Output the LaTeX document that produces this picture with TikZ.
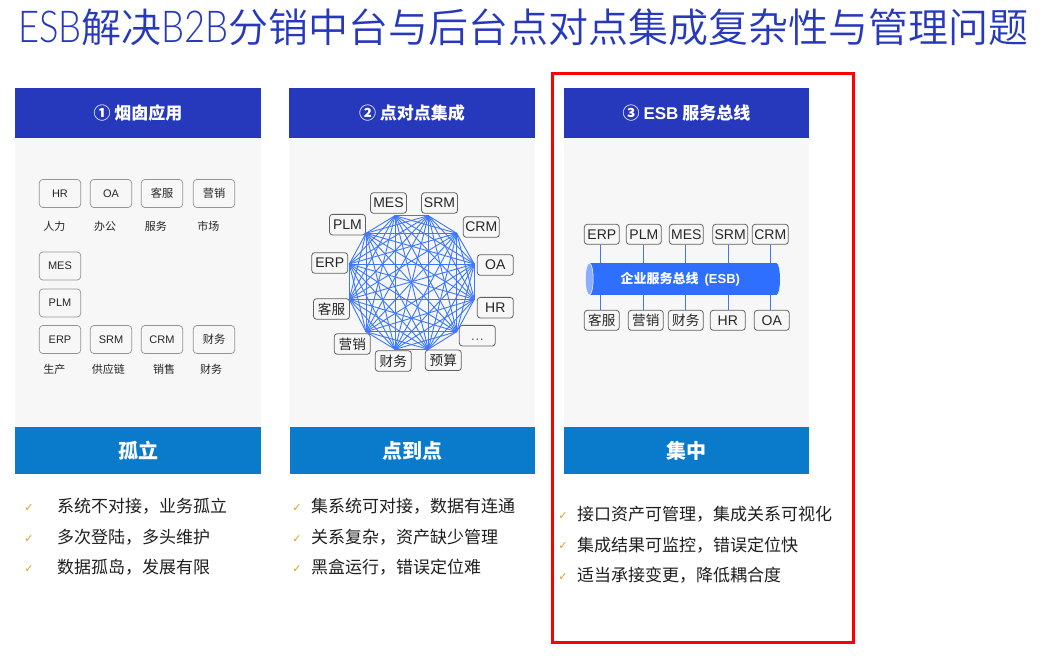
\documentclass[tikz,border=0pt]{standalone}
\usepackage{fontspec}
\usepackage{graphicx}
\setmainfont{Liberation Sans}
\newfontfamily\cjk{Noto Sans CJK SC}
\newfontfamily\cjklight{Noto Sans CJK SC DemiLight}
\newfontfamily\latlight{Lato Light}
\newfontfamily\sym{DejaVu Sans}
\definecolor{hdr}{HTML}{2639BD}
\definecolor{ftr}{HTML}{0A7BCA}
\definecolor{pane}{HTML}{F7F7F7}
\definecolor{netc}{HTML}{3B78FF}
\definecolor{barc}{HTML}{2F6FFF}
\definecolor{barl}{HTML}{8CAEFF}
\definecolor{chk}{HTML}{D9A21B}
\tikzset{
  hdrbox/.style={fill=hdr,draw=none,inner sep=0,text=white,minimum height=50,font=\cjk\bfseries\fontsize{17}{17}\selectfont},
  ftrbox/.style={fill=ftr,draw=none,inner sep=0,text=white,minimum height=47,font=\cjk\bfseries\fontsize{20}{20}\selectfont},
  panebox/.style={fill=pane,draw=none,inner sep=0,minimum height=289},
  smallbox/.style={draw=black!42,line width=0.7,rounded corners=3.5,fill=pane,inner sep=0,minimum width=41.4,minimum height=28,text=black!85,font=\fontsize{11}{11}\selectfont},
  netbox/.style={draw=black!62,line width=0.8,rounded corners=3,fill=pane,inner sep=0,minimum width=36,minimum height=20.6,text=black!85,font=\fontsize{14}{14}\selectfont},
  busbox/.style={netbox,minimum width=35,minimum height=20},
  cjklab/.style={inner sep=0,text=black!85,font=\cjk\fontsize{11}{11}\selectfont},
  bullettext/.style={anchor=west,inner sep=0,text=black!88,font=\cjk\fontsize{17}{17}\selectfont},
  checkmark/.style={inner sep=0,text=chk,font=\sym\fontsize{11}{11}\selectfont},
  netline/.style={draw=netc,line width=0.9},
  busline/.style={draw=netc,line width=1},
}
\newcommand{\cn}[1]{{\cjk\fontsize{13.6}{13.6}\selectfont #1}}
\newcommand{\cs}[1]{{\cjk\fontsize{11.2}{11.2}\selectfont #1}}
\newcommand{\ttlat}[1]{\scalebox{0.91}[1.1]{\latlight #1}}
\begin{document}
\begin{tikzpicture}[x=1pt,y=-1pt]
\useasboundingbox[fill=white] (0,0) rectangle (1045,660);
% title
\node[inner sep=0,text=hdr,font=\cjklight\fontsize{40}{40}\selectfont] (title) at (523.5,27) {\ttlat{ESB}解决\ttlat{B2B}分销中台与后台点对点集成复杂性与管理问题};
% panels
\node[panebox,minimum width=246] (p1) at (138,282.5) {};
\node[panebox,minimum width=246] (p2) at (412,282.5) {};
\node[panebox,minimum width=245] (p3) at (686.5,282.5) {};
\node[hdrbox,minimum width=246] (h1) at (138,113) {① 烟囱应用};
\node[hdrbox,minimum width=246] (h2) at (412,113) {② 点对点集成};
\node[hdrbox,minimum width=245] (h3) at (686.5,113) {③ {\rmfamily\bfseries ESB} 服务总线};
\node[ftrbox,minimum width=246] (f1) at (138,450.5) {孤立};
\node[ftrbox,minimum width=245] (f2) at (412.5,450.5) {点到点};
\node[ftrbox,minimum width=245] (f3) at (686.5,450.5) {集中};
% column 1
\node[smallbox] (a1) at (60,193.5) {HR};
\node[smallbox] (a2) at (111,193.5) {OA};
\node[smallbox] (a3) at (162,193.5) {\cs{客服}};
\node[smallbox] (a4) at (214,193.5) {\cs{营销}};
\node[cjklab] (la1) at (54.3,226.7) {人力};
\node[cjklab] (la2) at (105,226.7) {办公};
\node[cjklab] (la3) at (155.8,226.7) {服务};
\node[cjklab] (la4) at (208.3,226.7) {市场};
\node[smallbox] (a5) at (60,266) {MES};
\node[smallbox] (a6) at (60,303) {PLM};
\node[smallbox] (a7) at (60,339.5) {ERP};
\node[smallbox] (a8) at (111,339.5) {SRM};
\node[smallbox] (a9) at (162,339.5) {CRM};
\node[smallbox] (a10) at (214,339.5) {\cs{财务}};
\node[cjklab] (lb1) at (54.3,369.3) {生产};
\node[cjklab] (lb2) at (108.3,369.3) {供应链};
\node[cjklab] (lb3) at (164.2,369.3) {销售};
\node[cjklab] (lb4) at (211,369.3) {财务};
% column 2: full mesh
\coordinate (v1) at (395,215.7);
\coordinate (v2) at (428.3,215.7);
\coordinate (v3) at (456.7,233.3);
\coordinate (v4) at (474.3,264);
\coordinate (v5) at (474.3,299.3);
\coordinate (v6) at (456.7,331.7);
\coordinate (v7) at (428.3,349.3);
\coordinate (v8) at (395,349.3);
\coordinate (v9) at (366,331.7);
\coordinate (v10) at (349.3,299.3);
\coordinate (v11) at (349.3,264);
\coordinate (v12) at (366,233.3);
\foreach \i in {1,...,11}{
  \pgfmathtruncatemacro{\nxt}{\i+1}
  \foreach \j in {\nxt,...,12}{
    \draw[netline] (v\i) -- (v\j);
  }
}
\node[netbox] (n1) at (388.5,203) {MES};
\node[netbox] (n2) at (439.5,203) {SRM};
\node[netbox] (n3) at (481.3,227) {CRM};
\node[netbox] (n4) at (495.3,265) {OA};
\node[netbox] (n5) at (495.3,307.7) {HR};
\node[netbox,text=black!60] (n6) at (477.3,335.7) {\vphantom{H}…};
\node[netbox] (n7) at (443.3,360.3) {\cn{预算}};
\node[netbox] (n8) at (393.3,361) {\cn{财务}};
\node[netbox] (n9) at (352.3,344) {\cn{营销}};
\node[netbox] (n10) at (331.5,309) {\cn{客服}};
\node[netbox] (n11) at (329.7,263) {ERP};
\node[netbox] (n12) at (347.5,224.7) {PLM};
% column 3: bus
\fill[barc] (776.3,279) ellipse[x radius=3.7,y radius=16];
\fill[barc] (589.3,263) rectangle (776.3,295);
\draw[white,fill=barl,line width=0.5] (589.3,279) ellipse[x radius=3.9,y radius=16];
\node[inner sep=0,text=white,minimum width=120,minimum height=32,font=\cjk\bfseries\fontsize{13}{13}\selectfont] (bar) at (680.3,279) {企业服务总线\hspace{6pt}{\rmfamily\bfseries (ESB)}};
\coordinate (l1) at (600.3,279);
\coordinate (l2) at (643.3,279);
\coordinate (l3) at (685.3,279);
\coordinate (l4) at (728.3,279);
\coordinate (l5) at (770.3,279);
\node[busbox] (t1) at (601.8,234.3) {ERP};
\node[busbox] (t2) at (643.8,234.3) {PLM};
\node[busbox,minimum width=34] (t3) at (686.3,234.3) {MES};
\node[busbox] (t4) at (730.2,234.3) {SRM};
\node[busbox,minimum width=36] (t5) at (770.3,234.3) {CRM};
\node[busbox] (b1) at (601.8,320.3) {\cn{客服}};
\node[busbox] (b2) at (645.8,320.3) {\cn{营销}};
\node[busbox] (b3) at (685.8,320.3) {\cn{财务}};
\node[busbox] (b4) at (727.8,320.3) {HR};
\node[busbox] (b5) at (771.8,320.3) {OA};
\foreach \k in {1,...,5}{
  \draw[busline] (t\k.south -| l\k) -- (l\k |- bar.north);
  \draw[busline] (l\k |- bar.south) -- (b\k.north -| l\k);
}
% bullets
\node[checkmark] (c11) at (29,508) {✓};
\node[checkmark] (c12) at (29,539) {✓};
\node[checkmark] (c13) at (29,569) {✓};
\node[bullettext] (t11) at (57,506.5) {系统不对接，业务孤立};
\node[bullettext] (t12) at (57,537) {多次登陆，多头维护};
\node[bullettext] (t13) at (57,567.5) {数据孤岛，发展有限};
\node[checkmark] (c21) at (297,508) {✓};
\node[checkmark] (c22) at (297,539) {✓};
\node[checkmark] (c23) at (297,569) {✓};
\node[bullettext] (t21) at (311,506.5) {集系统可对接，数据有连通};
\node[bullettext] (t22) at (311,537) {关系复杂，资产缺少管理};
\node[bullettext] (t23) at (311,567.5) {黑盒运行，错误定位难};
\node[checkmark] (c31) at (563,516) {✓};
\node[checkmark] (c32) at (563,546) {✓};
\node[checkmark] (c33) at (563,577) {✓};
\node[bullettext] (t31) at (577,514) {接口资产可管理，集成关系可视化};
\node[bullettext] (t32) at (577,545) {集成结果可监控，错误定位快};
\node[bullettext] (t33) at (577,575) {适当承接变更，降低耦合度};
% highlight
\draw[red,line width=3] (552.5,73.5) rectangle (853.5,642.5);
\end{tikzpicture}
\end{document}
